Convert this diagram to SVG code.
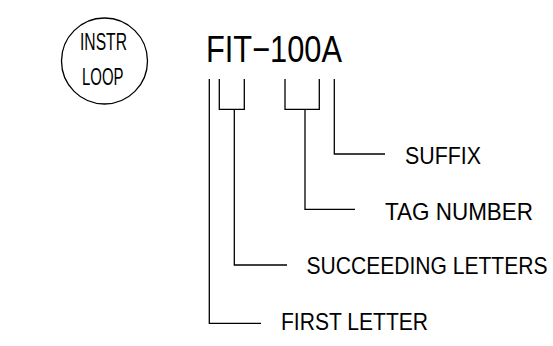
<svg xmlns="http://www.w3.org/2000/svg" width="553" height="346" viewBox="0 0 553 346">
<style>
.t{font-family:"Liberation Sans",Arial,sans-serif;fill:#000;}
.l{fill:none;stroke:#000;stroke-width:1.3;}
</style>
<rect width="553" height="346" fill="#fff"/>
<g id="instr-loop">
<circle class="l" cx="104.5" cy="61" r="43"/>
<text class="t" x="80" y="50" font-size="24" textLength="47" lengthAdjust="spacingAndGlyphs">INSTR</text>
<text class="t" x="82" y="85" font-size="24" textLength="41.5" lengthAdjust="spacingAndGlyphs">LOOP</text>
</g>
<g id="tag">
<text class="t" x="206" y="62" font-size="37.5" textLength="136" lengthAdjust="spacingAndGlyphs">FIT−100A</text>
</g>
<g id="connectors">
<path class="l" d="M209.3,79 V323.3 H261"/>
<path class="l" d="M219.3,79 V109.3 H244.3 V79"/>
<path class="l" d="M234.3,109.3 V265 H287"/>
<path class="l" d="M285,79 V109.3 H319.3 V79"/>
<path class="l" d="M305,109.3 V209.3 H355"/>
<path class="l" d="M334.3,79 V154 H385"/>
</g>
<g id="suffix">
<text class="t" x="405" y="164" font-size="24.5" textLength="76" lengthAdjust="spacingAndGlyphs">SUFFIX</text>
</g>
<g id="tag-number">
<text class="t" x="385" y="219.5" font-size="24.5" textLength="148" lengthAdjust="spacingAndGlyphs">TAG NUMBER</text>
</g>
<g id="succeeding-letters">
<text class="t" transform="translate(306.5,274) scale(1,1.1667)" x="0" y="0" font-size="21" textLength="241" lengthAdjust="spacingAndGlyphs">SUCCEEDING LETTERS</text>
</g>
<g id="first-letter">
<text class="t" x="281" y="330" font-size="24.5" textLength="147" lengthAdjust="spacingAndGlyphs">FIRST LETTER</text>
</g>
</svg>
